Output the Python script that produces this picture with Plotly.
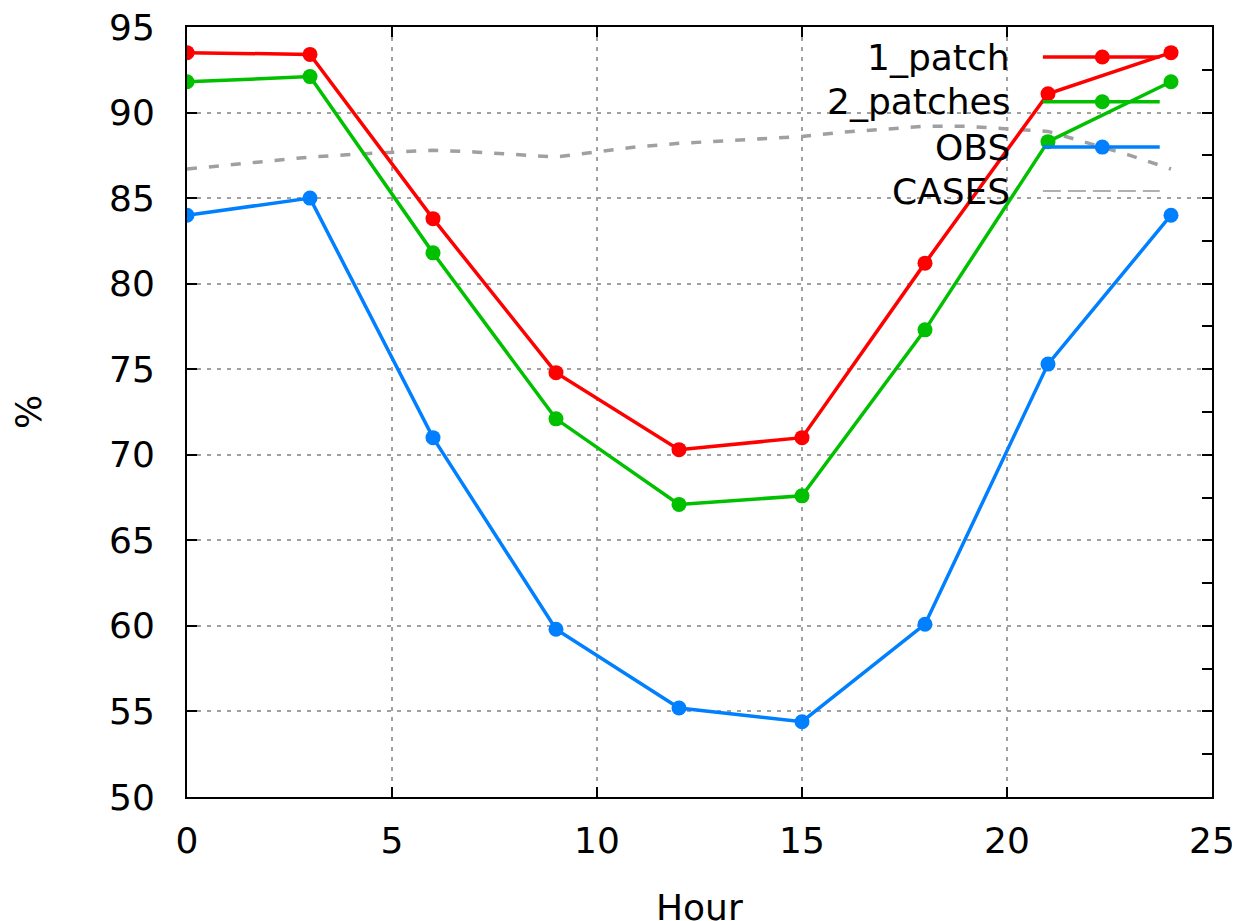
import plotly.graph_objects as go

# ---------------- data ----------------
hours = [0, 3, 6, 9, 12, 15, 18, 21, 24]
patch1 = [93.5, 93.4, 83.8, 74.8, 70.3, 71.0, 81.2, 91.1, 93.5]
patches2 = [91.8, 92.1, 81.8, 72.1, 67.1, 67.6, 77.3, 88.3, 91.8]
obs = [84.0, 85.0, 71.0, 59.8, 55.2, 54.4, 60.1, 75.3, 84.0]

cases_hours = list(range(0, 25))
cases = [86.7, 86.95, 87.2, 87.4, 87.55, 87.65, 87.8, 87.7, 87.55, 87.4,
         87.7, 88.0, 88.2, 88.35, 88.45, 88.6, 88.85, 89.05, 89.2, 89.2,
         89.05, 88.9, 88.2, 87.5, 86.7]

series_names = ["1_patch", "2_patches", "OBS", "CASES"]
x_ticks = [0, 5, 10, 15, 20, 25]
y_ticks = [50, 55, 60, 65, 70, 75, 80, 85, 90, 95]
x_title = "Hour"
y_title = "%"

# ---------------- styles ----------------
RED, GREEN, BLUE, GRAY = "#ff0000", "#00c000", "#0080ff", "#a0a0a0"
FONT = "DejaVu Sans"
FS = 36
LW = 3.5
MS = 15

fig = go.Figure()

fig.add_trace(go.Scatter(x=cases_hours, y=cases, mode="lines", name="CASES",
                         line=dict(color=GRAY, width=3.5, dash="10px,12px"),
                         showlegend=False, hoverinfo="skip"))
for name, ys, col in [("1_patch", patch1, RED), ("2_patches", patches2, GREEN), ("OBS", obs, BLUE)]:
    fig.add_trace(go.Scatter(x=hours, y=ys, mode="lines+markers", name=name,
                             line=dict(color=col, width=LW),
                             marker=dict(color=col, size=MS, symbol="circle"),
                             showlegend=False))

# dummy trace to carry the right-hand tick axis
fig.add_trace(go.Scatter(x=[None], y=[None], yaxis="y2", showlegend=False, hoverinfo="skip"))

# ---------------- custom key (text left, sample right) ----------------
key_rows_y = [0.961, 0.903, 0.844, 0.787]
key_text_x = 0.805
key_x0, key_x1, key_xm = 0.835, 0.949, 0.893
key_styles = [
    dict(color=RED, width=LW, dash="solid", marker=True),
    dict(color=GREEN, width=LW, dash="solid", marker=True),
    dict(color=BLUE, width=LW, dash="solid", marker=True),
    dict(color="#b0b0b0", width=2, dash="18px,7px", marker=False),
]
for name, ky, st in zip(series_names, key_rows_y, key_styles):
    fig.add_trace(go.Scatter(x=[key_x0, key_x1], y=[ky, ky], mode="lines",
                             xaxis="x2", yaxis="y3",
                             line=dict(color=st["color"], width=st["width"], dash=st["dash"]),
                             showlegend=False, hoverinfo="skip"))
    if st["marker"]:
        fig.add_trace(go.Scatter(x=[key_xm], y=[ky], mode="markers",
                                 xaxis="x2", yaxis="y3",
                                 marker=dict(color=st["color"], size=MS, symbol="circle"),
                                 showlegend=False, hoverinfo="skip"))
    fig.add_annotation(x=key_text_x, y=ky, xref="paper", yref="paper",
                       text=name, showarrow=False, xanchor="right", yanchor="middle",
                       font=dict(family=FONT, size=FS, color="#000000"))

# x-axis title (placed as annotation so it may sit partly below the page edge, as in the reference)
fig.add_annotation(x=0.5, y=-0.143, xref="paper", yref="paper", text=x_title,
                   showarrow=False, xanchor="center", yanchor="middle",
                   font=dict(family=FONT, size=FS, color="#000000"))

# white box behind the key (covers grid only)
fig.add_shape(type="rect", xref="paper", yref="paper",
              x0=0.588, x1=0.969, y0=0.765, y1=1.0,
              fillcolor="white", line=dict(width=0), layer="between")

axis_common = dict(
    ticks="inside", ticklen=10, tickwidth=2, tickcolor="#000000",
    showline=True, linewidth=2, linecolor="#000000", mirror="ticks",
    showgrid=True, gridcolor="#a0a0a0", gridwidth=1.5, griddash="4px,6px",
    zeroline=False, tickfont=dict(family=FONT, size=FS, color="#000000"),
    ticklabeloverflow="allow",
)

fig.update_layout(
    width=1232, height=913,
    margin=dict(l=179, r=28, t=19, b=124, autoexpand=False),
    paper_bgcolor="white", plot_bgcolor="white",
    showlegend=False,
    xaxis=dict(range=[0, 25], tickvals=x_ticks, ticklabelstandoff=11,
               automargin=False, **axis_common),
    yaxis=dict(range=[50, 95], tickvals=y_ticks, ticklabelstandoff=23,
               title=dict(text=y_title, font=dict(family=FONT, size=FS, color="#000000"), standoff=58),
               automargin=False, **axis_common),
    yaxis2=dict(range=[50, 95], overlaying="y", side="right", dtick=2.5, tick0=50,
                ticks="inside", ticklen=10, tickwidth=2, tickcolor="#000000",
                showticklabels=False, showgrid=False, showline=False, zeroline=False),
    xaxis2=dict(range=[0, 1], overlaying="x", visible=False),
    yaxis3=dict(range=[0, 1], overlaying="y", visible=False),
)

fig.write_html("out.html")
